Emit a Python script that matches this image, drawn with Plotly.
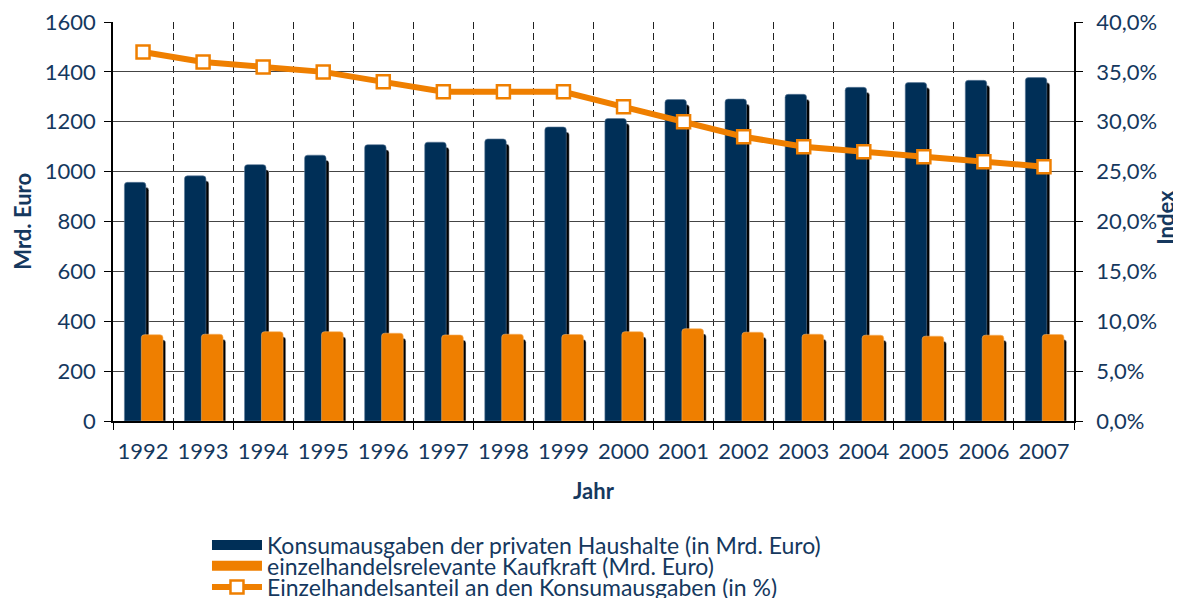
import plotly.graph_objects as go

years = ["1992", "1993", "1994", "1995", "1996", "1997", "1998", "1999",
         "2000", "2001", "2002", "2003", "2004", "2005", "2006", "2007"]
konsum = [957, 983, 1028, 1066, 1108, 1118, 1131, 1179,
          1213, 1289, 1291, 1310, 1338, 1357, 1366, 1377]
kaufkraft = [346, 348, 358, 358, 352, 345, 348, 347,
             358, 370, 356, 348, 344, 340, 344, 347]
anteil = [37.0, 36.0, 35.5, 35.0, 34.0, 33.0, 33.0, 33.0,
          31.5, 30.0, 28.5, 27.5, 27.0, 26.5, 26.0, 25.5]
left_ticks = [0, 200, 400, 600, 800, 1000, 1200, 1400, 1600]
right_ticks = [0, 5, 10, 15, 20, 25, 30, 35, 40]
right_labels = [f"{v:.1f}".replace(".", ",") + "%" for v in right_ticks]

NAME_K = "Konsumausgaben der privaten Haushalte (in Mrd. Euro)"
NAME_E = "einzelhandelsrelevante Kaufkraft (Mrd. Euro)"
NAME_A = "Einzelhandelsanteil an den Konsumausgaben (in %)"

NAVY = "#002f57"
ORANGE = "#ef7f00"
TXT = "#15385e"
FONT = "Lato"

# shadow offset (style): ~20 units lower, shifted slightly right
SH = 20
n = len(years)

fig = go.Figure()
fig.add_trace(go.Bar(x=years, y=[v - SH for v in konsum], width=[0.357] * n, offset=[-0.26] * n,
                     marker=dict(color="black", cornerradius=3), showlegend=False, hoverinfo="skip"))
fig.add_trace(go.Bar(x=years, y=konsum, width=[0.357] * n, offset=[-0.31] * n,
                     name=NAME_K, legendgroup="k", showlegend=False,
                     marker=dict(color=NAVY, cornerradius=3, line=dict(color="#5d7a99", width=0.6))))
fig.add_trace(go.Bar(x=years, y=[v - SH for v in kaufkraft], width=[0.36] * n, offset=[0.017] * n,
                     marker=dict(color="black", cornerradius=3), showlegend=False, hoverinfo="skip"))
fig.add_trace(go.Bar(x=years, y=kaufkraft, width=[0.36] * n, offset=[-0.028] * n,
                     name=NAME_E, legendgroup="e", showlegend=False,
                     marker=dict(color=ORANGE, cornerradius=3, line=dict(color="#f5b060", width=0.6))))
fig.add_trace(go.Scatter(x=years, y=anteil, yaxis="y2", mode="lines+markers",
                         name=NAME_A, legend="legend3",
                         line=dict(color=ORANGE, width=6),
                         marker=dict(symbol="square", size=13, color="white",
                                     line=dict(color=ORANGE, width=2.5)),
                         cliponaxis=False))
# legend keys for the bar series (wide rectangles like the original)
fig.add_trace(go.Scatter(x=[None], y=[None], mode="lines", name=NAME_K, legendgroup="k",
                         legend="legend", line=dict(color=NAVY, width=16)))
fig.add_trace(go.Scatter(x=[None], y=[None], mode="lines", name=NAME_E, legendgroup="e",
                         legend="legend2", line=dict(color=ORANGE, width=16)))

leg_common = dict(x=0.0978, xanchor="left", yanchor="top",
                  font=dict(size=23, color=TXT, family=FONT),
                  itemwidth=50, bgcolor="rgba(0,0,0,0)")

fig.update_layout(
    width=1173, height=590,
    margin=dict(l=105, r=107, t=14, b=177, autoexpand=False),
    plot_bgcolor="white", paper_bgcolor="white",
    barmode="overlay",
    font=dict(family=FONT, size=22, color=TXT),
    xaxis=dict(type="category", tickson="boundaries", showgrid=True,
               gridcolor="#222", griddash="7px,4px", gridwidth=1,
               showline=True, linecolor="black", linewidth=1.5,
               ticks="outside", ticklen=7, tickcolor="black", ticklabelstandoff=10,
               tickangle=0,
               tickfont=dict(size=22, color=TXT), range=[-0.5, n - 0.5]),
    yaxis=dict(range=[0, 1600], tickvals=left_ticks, showgrid=True,
               gridcolor="#444", gridwidth=1, zeroline=False,
               showline=True, linecolor="black", linewidth=1.5,
               ticks="outside", ticklen=7, tickcolor="black", ticklabelstandoff=4,
               ticklabeloverflow="allow",
               tickfont=dict(size=22, color=TXT)),
    yaxis2=dict(range=[0, 40], tickvals=right_ticks, ticktext=right_labels,
                overlaying="y", side="right",
                showgrid=False, zeroline=False,
                showline=True, linecolor="black", linewidth=1.5,
                ticks="outside", ticklen=7, tickcolor="black", ticklabelstandoff=9,
                ticklabeloverflow="allow",
                tickfont=dict(size=22, color=TXT)),
    legend=dict(y=-0.257, **leg_common),
    legend2=dict(y=-0.309, **leg_common),
    legend3=dict(y=-0.362, **leg_common),
    annotations=[
        dict(text="<b>Mrd. Euro</b>", xref="paper", yref="paper", x=-0.0945, y=0.5,
             xanchor="center", yanchor="middle",
             textangle=-90, showarrow=False, font=dict(size=22, color=TXT)),
        dict(text="<b>Index</b>", xref="paper", yref="paper", x=1.095, y=0.51,
             xanchor="center", yanchor="middle",
             textangle=-90, showarrow=False, font=dict(size=22, color=TXT)),
        dict(text="<b>Jahr</b>", xref="paper", yref="paper", x=0.5, y=-0.175,
             xanchor="center", yanchor="middle",
             showarrow=False, font=dict(size=22, color=TXT)),
    ],
)

fig.write_html("out.html")
